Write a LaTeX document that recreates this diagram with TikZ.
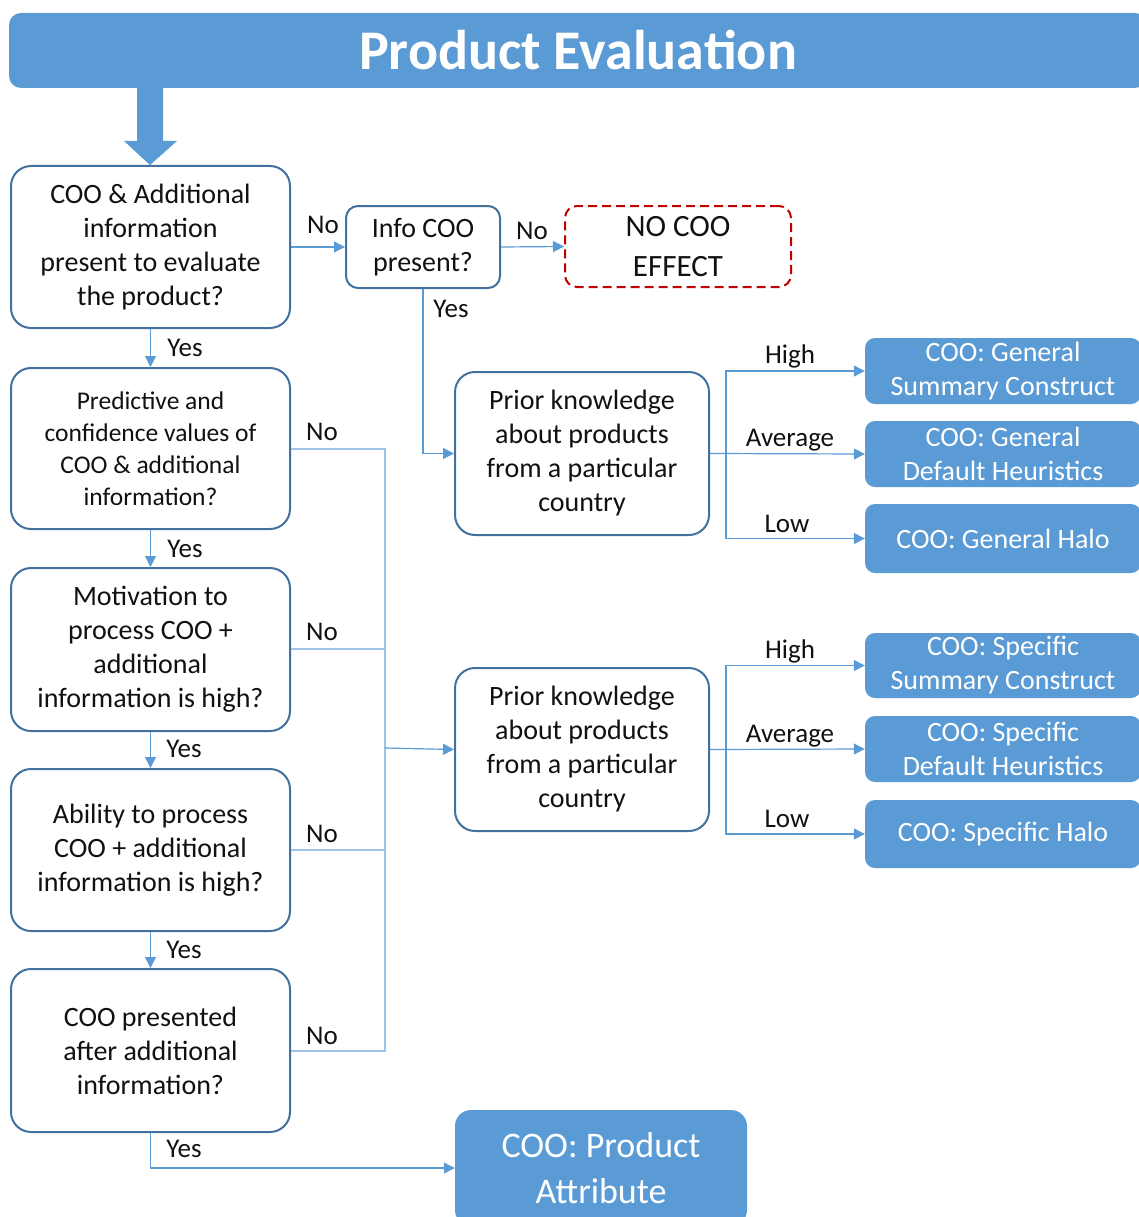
\documentclass[tikz,border=0pt]{standalone}
\usepackage{fontspec}
\setmainfont{Carlito}
\usetikzlibrary{arrows.meta}
\definecolor{fillblue}{HTML}{5B9BD5}
\definecolor{edgeblue}{HTML}{41719C}
\definecolor{lineblue}{HTML}{5B9BD5}
\definecolor{paleblue}{HTML}{9DC3E6}
\definecolor{darkred}{HTML}{C00000}
\definecolor{txt}{HTML}{111111}
\begin{document}
\begin{tikzpicture}[x=1pt,y=-1pt,
  qbox/.style={draw=edgeblue, line width=2pt, rounded corners=20pt, fill=white, align=center,
    inner sep=0pt, text=txt, font=\fontsize{28}{34}\selectfont},
  outbox/.style={fill=fillblue, rounded corners=10pt, align=center, inner sep=0pt, text=white,
    font=\fontsize{28}{34}\selectfont},
  conn/.style={draw=lineblue, line width=1.2pt, -{Triangle[length=11pt,width=11pt]}},
  noline/.style={draw=paleblue, line width=1.7pt},
  lbl/.style={text=txt, font=\fontsize{27}{30}\selectfont, inner sep=0pt}
]
\useasboundingbox (0,0) rectangle (1139,1217);

% title bar
\node[fill=fillblue, rounded corners=12pt, minimum width=1138pt, minimum height=75pt, inner sep=0pt,
  text=white, font=\fontsize{56}{60}\selectfont\bfseries] (title) at (578,50.5) {\raisebox{-2pt}{Product Evaluation}};
% big arrow
\fill[fillblue] (137,87) -- (163,87) -- (163,141) -- (177,141) -- (150,165) -- (124,141) -- (137,141) -- cycle;

% left question boxes
\node[qbox, minimum width=279pt, minimum height=162pt] (q1) at (150.5,247)
  {COO \& Additional\\information\\present to evaluate\\the product?};
\node[qbox, minimum width=279pt, minimum height=161pt, font=\fontsize{25.5}{32}\selectfont] (q2) at (150.5,448.5)
  {Predictive and\\confidence values of\\COO \& additional\\information?};
\node[qbox, minimum width=279pt, minimum height=163pt] (q3) at (150.5,649.5)
  {Motivation to\\process COO +\\additional\\information is high?};
\node[qbox, minimum width=279pt, minimum height=162pt] (q4) at (150.5,850)
  {Ability to process\\COO + additional\\information is high?};
\node[qbox, minimum width=279pt, minimum height=163pt] (q5) at (150.5,1050.5)
  {COO presented\\after additional\\information?};

% info box
\node[qbox, rounded corners=12pt, minimum width=154pt, minimum height=82pt] (info) at (423,247)
  {Info COO\\present?};
% no effect
\node[draw=darkred, dashed, dash pattern=on 9pt off 5pt, line width=2pt, rounded corners=12pt,
  minimum width=226pt, minimum height=81pt, inner sep=0pt, align=center, text=txt,
  font=\fontsize{31}{40}\selectfont] (noeff) at (678,246.5) {NO COO\\EFFECT};

% prior knowledge boxes
\node[qbox, minimum width=254pt, minimum height=163pt] (p1) at (582,453.5)
  {Prior knowledge\\about products\\from a particular\\country};
\node[qbox, minimum width=254pt, minimum height=163pt] (p2) at (582,749.5)
  {Prior knowledge\\about products\\from a particular\\country};

% outcome boxes
\node[outbox, minimum width=276pt, minimum height=66pt] (g1) at (1003,371) {COO: General\\Summary Construct};
\node[outbox, minimum width=276pt, minimum height=66pt] (g2) at (1003,454) {COO: General\\Default Heuristics};
\node[outbox, minimum width=276pt, minimum height=69pt] (g3) at (1003,538.5) {COO: General Halo};
\node[outbox, minimum width=276pt, minimum height=65pt] (s1) at (1003,665.5) {COO: Specific\\Summary Construct};
\node[outbox, minimum width=276pt, minimum height=66pt] (s2) at (1003,749) {COO: Specific\\Default Heuristics};
\node[outbox, minimum width=276pt, minimum height=68pt] (s3) at (1003,834) {COO: Specific Halo};
\node[outbox, rounded corners=16pt, minimum width=292pt, minimum height=116pt,
  font=\fontsize{36}{46}\selectfont] (pa) at (601,1168) {COO: Product\\Attribute};

% yes arrows down the left column
\draw[conn] (q1.south) -- (q2.north);
\draw[conn] (q2.south) -- (q3.north);
\draw[conn] (q3.south) -- (q4.north);
\draw[conn] (q4.south) -- (q5.north);
\node[lbl] (y1) at (185,348) {Yes};
\node[lbl] (y2) at (185,549) {Yes};
\node[lbl] (y3) at (184,749) {Yes};
\node[lbl] (y4) at (184,950) {Yes};

% q1 -> info -> no effect
\draw[conn] (q1.east) -- (info.west);
\node[lbl] (n0) at (323,225) {No};
\draw[conn] (info.east) -- (noeff.west);
\node[lbl] (n00) at (532,231) {No};
\draw[conn] (info.south) |- (p1.west);
\node[lbl] (y0) at (451,309) {Yes};

% No lines from q2..q5
\coordinate (bustop) at (385,449);
\coordinate (busbot) at (385,1051);
\coordinate (busmid) at (385,748);
\draw[noline] (q2.east |- bustop) -- (bustop) -- (busbot) -- (q5.east |- busbot);
\draw[noline] (q3.east |- 0,649) -- (385,649);
\draw[noline] (q4.east |- 0,850) -- (385,850);
\draw[conn] (busmid) -- (p2.west);
\node[lbl] (n1) at (322,432) {No};
\node[lbl] (n2) at (322,632) {No};
\node[lbl] (n3) at (322,834) {No};
\node[lbl] (n4) at (322,1036) {No};

% branches from p1
\coordinate (b1) at (726,454);
\draw[conn] (p1.east) -- (g2.west);
\draw[conn] (b1) |- (g1.west);
\draw[conn] (b1) |- (g3.west);
\node[lbl] (h1) at (790,356) {High};
\node[lbl] (a1) at (790,440) {Average};
\node[lbl] (l1) at (787,524) {Low};

% branches from p2
\coordinate (b2) at (726,749.5);
\draw[conn] (p2.east) -- (s2.west);
\draw[conn] (b2) |- (s1.west);
\draw[conn] (b2) |- (s3.west);
\node[lbl] (h2) at (790,651) {High};
\node[lbl] (a2) at (790,736) {Average};
\node[lbl] (l2) at (787,819) {Low};

% q5 -> product attribute
\draw[conn] (q5.south) |- (pa.west);
\node[lbl] (y5) at (184,1149) {Yes};
\end{tikzpicture}
\end{document}
